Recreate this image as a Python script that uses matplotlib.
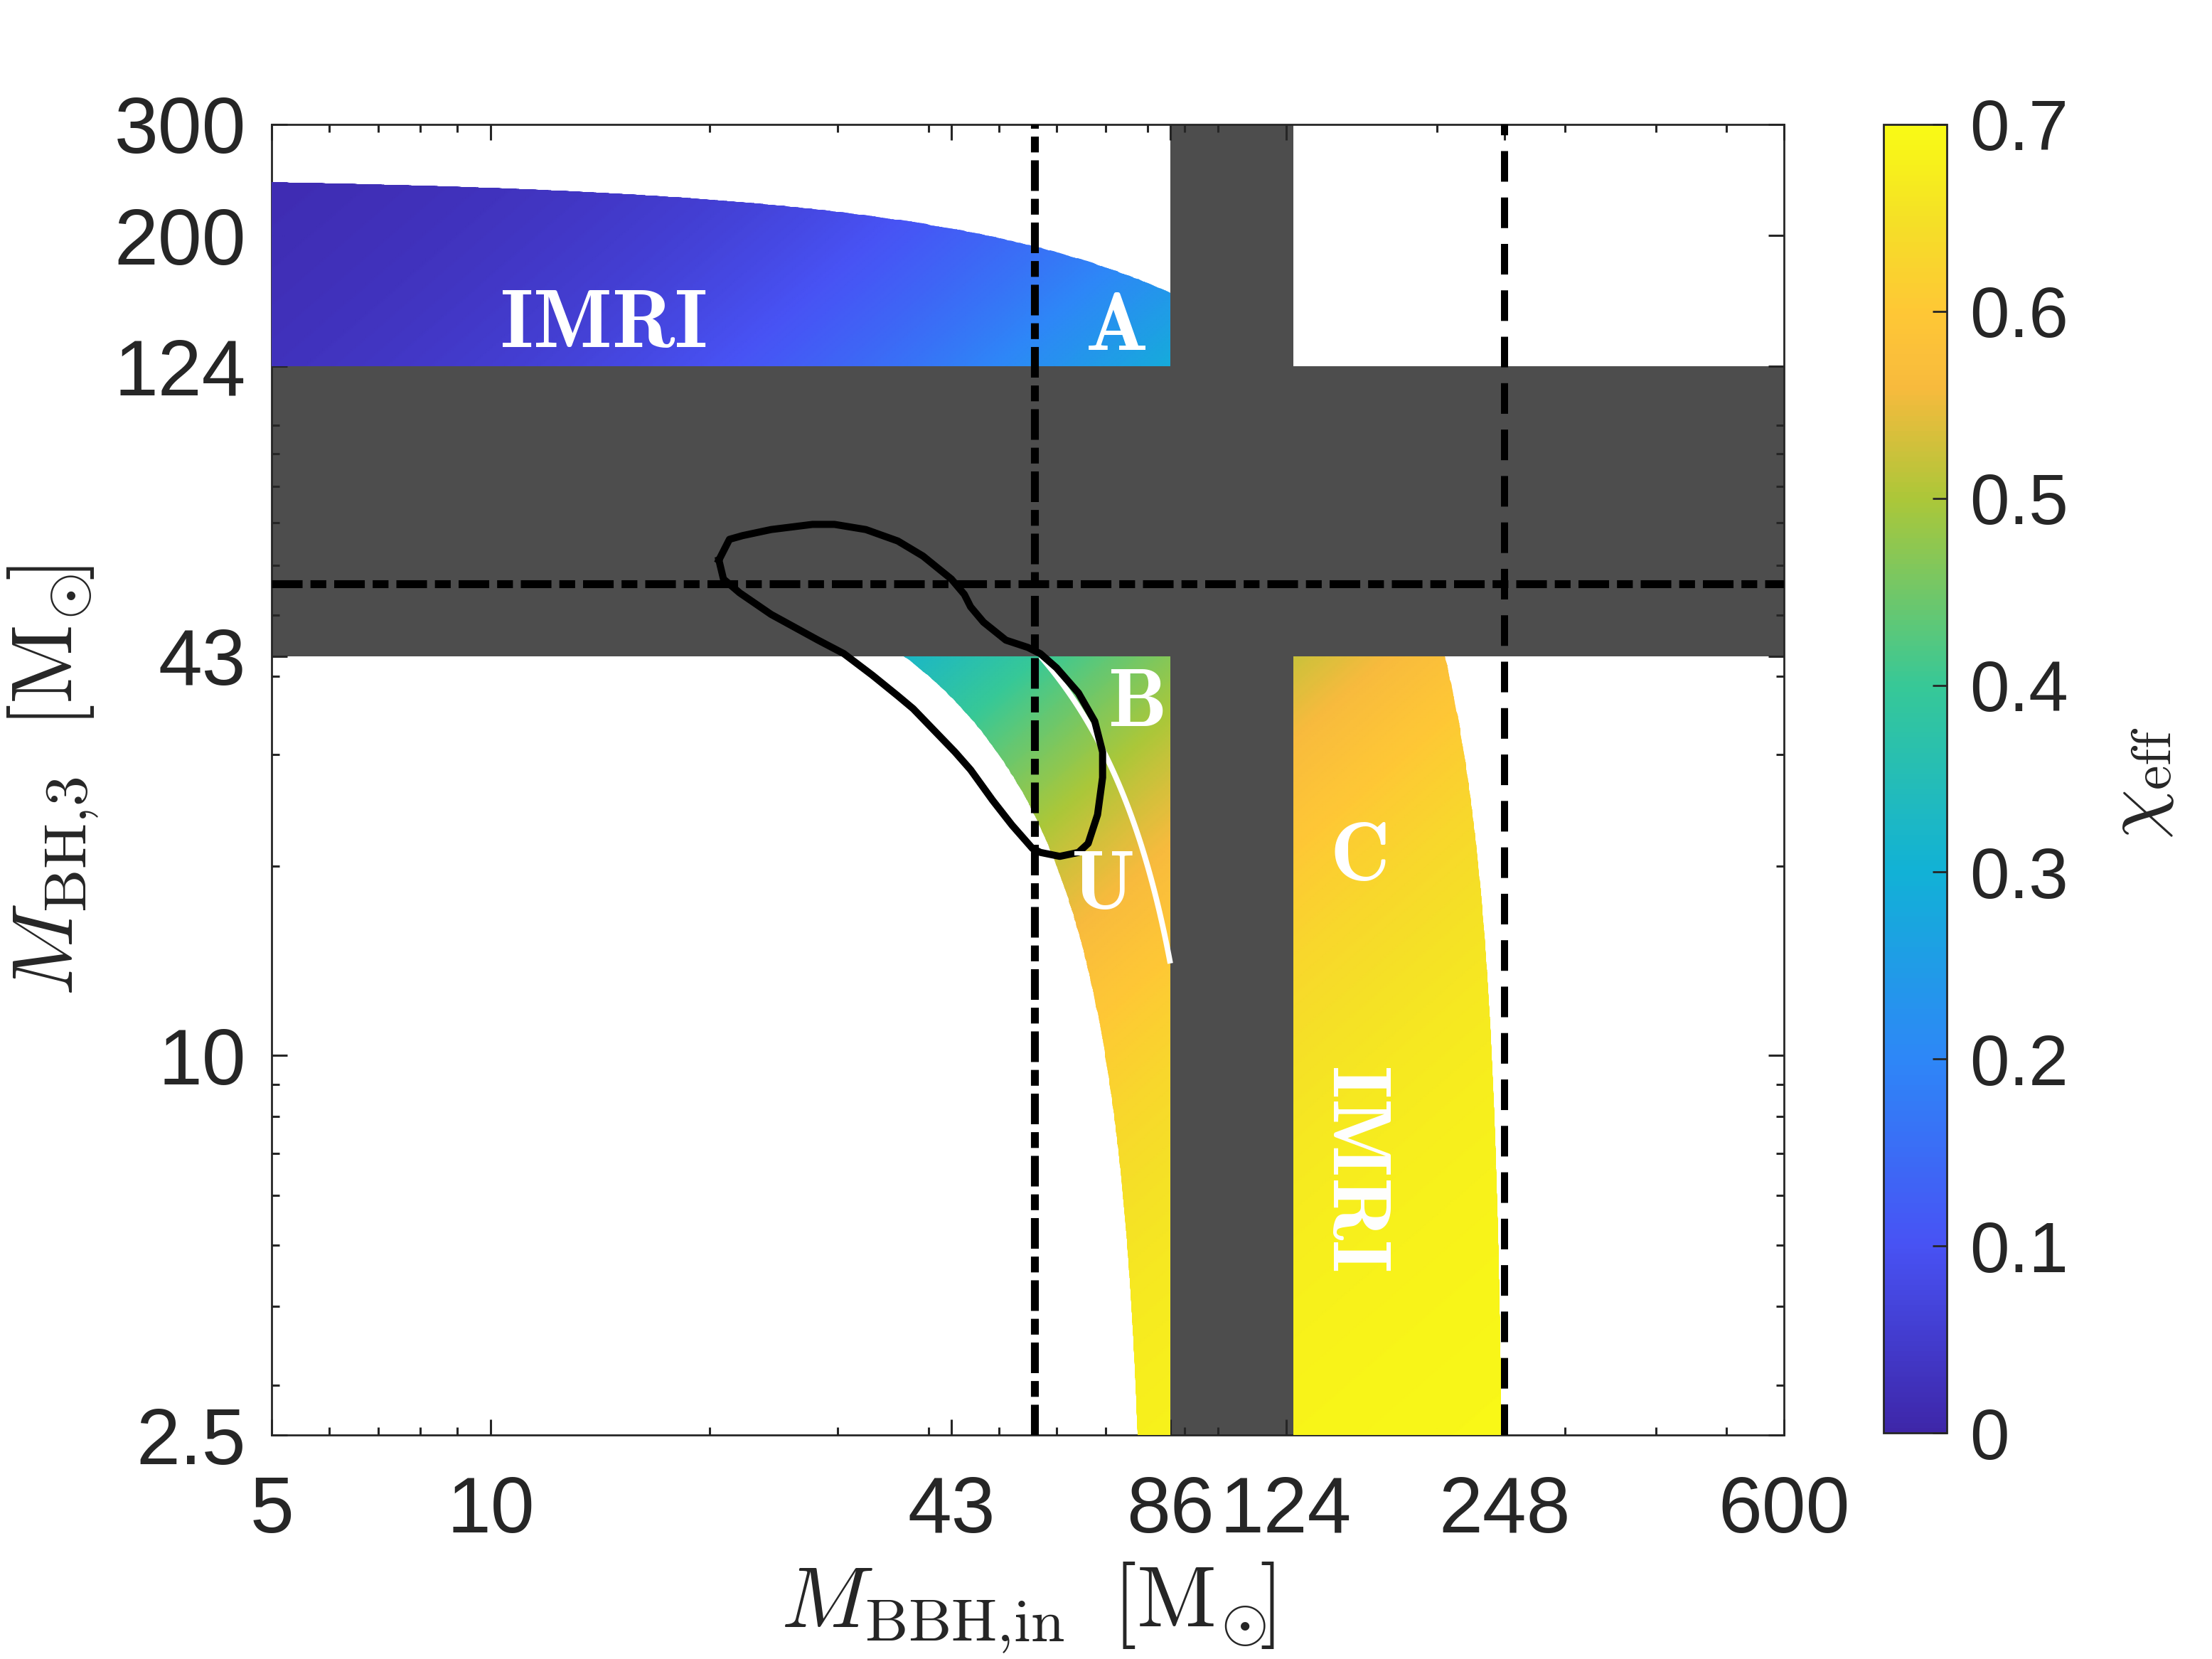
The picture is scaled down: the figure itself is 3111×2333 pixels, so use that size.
import numpy as np
import matplotlib
matplotlib.use("Agg")
import matplotlib.pyplot as plt
from matplotlib.colors import LinearSegmentedColormap
from matplotlib.path import Path
from matplotlib.patches import PathPatch
from matplotlib.ticker import LogLocator, NullFormatter

plt.rcParams['mathtext.fontset'] = 'cm'
plt.rcParams['font.family'] = ['Liberation Sans', 'DejaVu Sans']
plt.rcParams['lines.scale_dashes'] = False

# ---------------- data ----------------
x_lim = (5, 600)
y_lim = (2.5, 300)
x_ticks = [5, 10, 43, 86, 124, 248, 600]
x_tick_labels = ['5', '10', '43', '86', '124', '248', '600']
y_ticks = [2.5, 10, 43, 124, 200, 300]
y_tick_labels = ['2.5', '10', '43', '124', '200', '300']
cbar_ticks = [0, 0.1, 0.2, 0.3, 0.4, 0.5, 0.6, 0.7]
cbar_tick_labels = ['0', '0.1', '0.2', '0.3', '0.4', '0.5', '0.6', '0.7']
chi_range = (0.0, 0.7)

h_band = (43, 124)          # excluded M_BH,3 range
v_band = (86, 127)          # excluded M_BBH,in range
m_total_max = 248           # upper total-mass boundary (M_BBH + M3)
m_total_min = 80            # lower total-mass boundary of region B/U
m_total_split = 100         # B / U separating curve
ref_bbh = 56                # dash-dot vertical
ref_m3 = 56                 # dash-dot horizontal
dashed_bbh = 248            # dashed vertical
spin_remnant = 0.7          # spin of the inner BBH remnant

contour_x = [20.6, 21.3, 22.2, 24.3, 27.7, 29.7, 32.8, 36.3, 39.3, 43.0,
             44.8, 45.7, 47.6, 51.1, 54.8, 57.0, 60.0, 64.3, 67.7, 69.4,
             69.4, 68.3, 66.3, 64.3, 60.6, 57.0, 55.6, 52.1, 49.0, 45.7,
             43.5, 38.1, 36.3, 33.5, 30.6, 28.2, 24.3, 22.0, 20.9]
contour_y = [61.1, 65.9, 66.8, 68.3, 69.6, 69.6, 68.3, 65.5, 62.0, 57.0,
             53.9, 51.5, 48.7, 45.6, 44.4, 43.4, 41.2, 37.6, 33.9, 30.3,
             27.6, 24.1, 21.7, 21.0, 20.7, 21.0, 21.3, 23.2, 25.4, 28.4,
             30.3, 35.5, 37.2, 40.1, 43.4, 45.6, 50.1, 54.2, 57.0]

region_labels = ['IMRI', 'A', 'B', 'U', 'C', 'IMRI']
region_label_x = [14.3, 72.4, 77.1, 69.2, 155.7, 154.2]
region_label_y = [144, 142.4, 36.1, 18.5, 20.6, 6.64]
region_label_rot = [0, 0, 0, 0, 0, -90]

# parula-like colormap
parula_pos = [0.0, 1/7, 2/7, 3/7, 4/7, 5/7, 0.80, 6/7, 0.93, 1.0]
parula_rgb = [(0.2422, 0.1504, 0.6603), (0.2810, 0.3228, 0.9579),
              (0.1786, 0.5289, 0.9682), (0.0689, 0.6948, 0.8394),
              (0.2161, 0.7843, 0.5923), (0.6720, 0.7793, 0.2227),
              (0.9700, 0.7300, 0.2400), (0.9970, 0.7800, 0.2100),
              (0.9600, 0.8800, 0.1500), (0.9769, 0.9839, 0.0805)]
parula = LinearSegmentedColormap.from_list('parula', list(zip(parula_pos, parula_rgb)))

axis_col = '#262626'
band_col = '#4d4d4d'

# ---------------- figure ----------------
fig = plt.figure(figsize=(15.555, 11.665), dpi=200)
ax = fig.add_axes([0.1228, 0.1350, 0.6837, 0.7900])
cax = fig.add_axes([0.8515, 0.1363, 0.0286, 0.7887])

ax.set_xscale('log')
ax.set_yscale('log')
ax.set_xlim(*x_lim)
ax.set_ylim(*y_lim)

# chi_eff field (mass-weighted spin) clipped to the allowed regions
gx = np.geomspace(x_lim[0], x_lim[1], 500)
gy = np.geomspace(y_lim[0], y_lim[1], 500)
GX, GY = np.meshgrid(gx, gy)
chi = spin_remnant * GX / (GX + GY)
mesh = ax.pcolormesh(GX, GY, chi, shading='gouraud', cmap=parula,
                     vmin=chi_range[0], vmax=chi_range[1], zorder=1.5)

# region polygons
xs_top = np.geomspace(x_lim[0], v_band[0], 200)
top_poly = [(x_lim[0], h_band[1]), (v_band[0], h_band[1])] + \
           [(x, m_total_max - x) for x in xs_top[::-1]] + [(x_lim[0], h_band[1])]
ys_low = np.geomspace(y_lim[0], h_band[0], 200)
low_poly = [(v_band[0], h_band[0])] + \
           [(m_total_min - y, y) for y in ys_low[::-1]] + \
           [(v_band[0], y_lim[0]), (v_band[0], h_band[0])]
c_poly = [(v_band[1], h_band[0]), (v_band[1], y_lim[0])] + \
         [(m_total_max - y, y) for y in ys_low] + [(v_band[1], h_band[0])]
clip = Path.make_compound_path(Path(top_poly, closed=True),
                               Path(low_poly, closed=True),
                               Path(c_poly, closed=True))
clip_patch = PathPatch(clip, transform=ax.transData, facecolor='none', edgecolor='none')
mesh.set_clip_path(clip_patch)

# B/U separating curve
xs_split = np.geomspace(m_total_split - h_band[0], v_band[0], 100)
ax.plot(xs_split, m_total_split - xs_split, color='white', lw=2.8, zorder=1.6,
        solid_capstyle='butt')

# excluded bands
ax.axhspan(h_band[0], h_band[1], color=band_col, lw=0, zorder=0.5)
ax.axvspan(v_band[0], v_band[1], color=band_col, lw=0, zorder=0.5)

# reference lines
ax.axvline(ref_bbh, color='k', lw=4.0, dashes=(15.5, 4.0, 8.0, 4.0), zorder=3)
ax.axhline(ref_m3, color='k', lw=4.0, dashes=(15.5, 4.0, 8.0, 4.0), zorder=3)
ax.axvline(dashed_bbh, color='k', lw=3.6, dashes=(15.5, 8.0), zorder=3)

# contour
cx = contour_x + [contour_x[0]]
cy = contour_y + [contour_y[0]]
ax.plot(cx, cy, color='k', lw=3.6, zorder=4, solid_joinstyle='round')

# region labels
for t, x, y, r in zip(region_labels, region_label_x, region_label_y, region_label_rot):
    ax.text(x, y, r'$\mathbf{' + t + '}$', color='white', fontsize=42,
            ha='center', va='center', rotation=r, zorder=5)

# ticks
ax.set_xticks(x_ticks)
ax.set_xticklabels(x_tick_labels)
ax.set_yticks(y_ticks)
ax.set_yticklabels(y_tick_labels)
for a in (ax.xaxis, ax.yaxis):
    a.set_minor_locator(LogLocator(base=10, subs=np.arange(1, 10), numticks=20))
    a.set_minor_formatter(NullFormatter())
    a.set_zorder(1)
ax.tick_params(which='both', direction='in', top=True, right=True,
               color=axis_col, labelcolor=axis_col, labelsize=40, width=1.1)
ax.tick_params(which='major', length=7.9)
ax.tick_params(which='minor', length=4.0)
ax.tick_params(axis='x', pad=20)
ax.tick_params(axis='y', pad=13)
for s in ax.spines.values():
    s.set_color(axis_col)
    s.set_linewidth(1.0)
    s.set_zorder(1)

# colorbar
cb = fig.colorbar(mesh, cax=cax, ticks=cbar_ticks)
cb.set_ticklabels(cbar_tick_labels)
cb.ax.tick_params(direction='in', length=7.2, width=1.0, labelsize=36, pad=11.6,
                  color=axis_col, labelcolor=axis_col)
cb.ax.minorticks_off()
cb.outline.set_edgecolor(axis_col)
cb.outline.set_linewidth(1.0)

# axis labels
fig.text(0.4645, 0.0193, r'$M_{\mathrm{BBH{,}in}}\;\;[\mathrm{M}_{\!\odot}\!\!]$', fontsize=44,
         ha='center', va='baseline', color=axis_col)
fig.text(0.0328, 0.5294, r'$M_{\mathrm{BH{,}3}}\;\;[\mathrm{M}_{\!\odot}\!\!]$', fontsize=44,
         ha='center', va='baseline', rotation=90, rotation_mode='anchor', color=axis_col)
fig.text(0.967, 0.528, r'$\chi_{\mathrm{eff}}$', fontsize=40, ha='center', va='center',
         rotation=90, color=axis_col)

fig.savefig('out.png', dpi=200)
